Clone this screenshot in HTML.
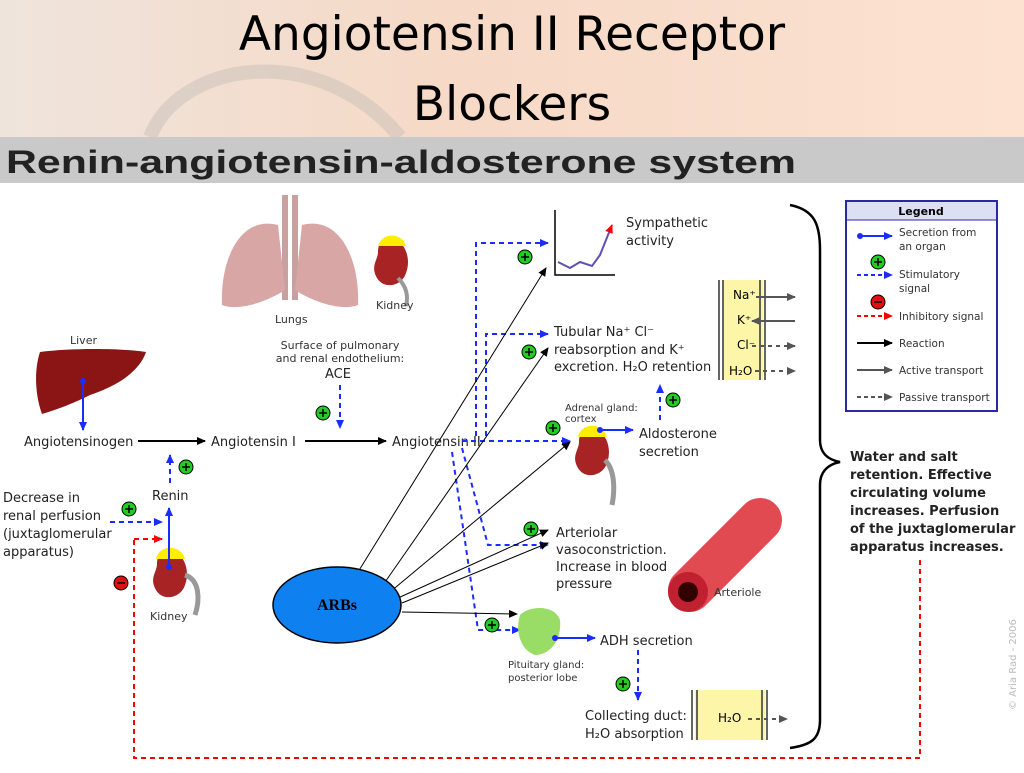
<!DOCTYPE html>
<html><head><meta charset="utf-8"><style>
body{margin:0;width:1024px;height:768px;overflow:hidden;background:#fff;font-family:"Liberation Sans",sans-serif}
</style></head><body>
<svg width="1024" height="768" viewBox="0 0 1024 768" xmlns="http://www.w3.org/2000/svg" font-family="DejaVu Sans, Liberation Sans, sans-serif">
<defs>
<linearGradient id="top" x1="0" x2="1" y1="0" y2="0"><stop offset="0" stop-color="#efe4dc"/><stop offset="0.45" stop-color="#f6d9c6"/><stop offset="1" stop-color="#fde2d2"/></linearGradient>
<marker id="ab" markerUnits="userSpaceOnUse" markerWidth="9" markerHeight="8" refX="8" refY="4" orient="auto"><path d="M0,0L9,4L0,8z" fill="#1a2cff"/></marker>
<marker id="ak" markerUnits="userSpaceOnUse" markerWidth="9" markerHeight="8" refX="8" refY="4" orient="auto"><path d="M0,0L9,4L0,8z" fill="#000"/></marker>
<marker id="ar" markerUnits="userSpaceOnUse" markerWidth="9" markerHeight="8" refX="8" refY="4" orient="auto"><path d="M0,0L9,4L0,8z" fill="#f00"/></marker>
<marker id="ag" markerUnits="userSpaceOnUse" markerWidth="9" markerHeight="8" refX="8" refY="4" orient="auto"><path d="M0,0L9,4L0,8z" fill="#555"/></marker>
<g id="plus"><circle r="7" fill="#22cc22" stroke="#000" stroke-width="1"/><path d="M-4,0H4M0,-4V4" stroke="#000" stroke-width="1.5"/></g>
<g id="minus"><circle r="7" fill="#dd1111" stroke="#000" stroke-width="1"/><path d="M-4,0H4" stroke="#000" stroke-width="1.5"/></g>
<g id="kid"><path d="M15,0C30,0 38,20 32,35C28,48 10,52 3,40C-4,28 4,22 4,14C4,6 8,0 15,0z" fill="#a82424"/></g>
</defs>
<rect width="1024" height="137" fill="url(#top)"/>
<path d="M150,137 C180,60 320,40 400,137" fill="none" stroke="#c8c0b8" stroke-width="14" opacity=".5"/>
<text x="512" y="50" font-size="47" text-anchor="middle" fill="#000">Angiotensin II Receptor</text>
<text x="512" y="120" font-size="47" text-anchor="middle" fill="#000">Blockers</text>
<rect x="0" y="137" width="1024" height="46" fill="#c9c9c9"/>
<text x="6" y="173" font-size="32" font-weight="bold" fill="#222" font-family="Liberation Sans Narrow, Liberation Sans, sans-serif" textLength="790" lengthAdjust="spacingAndGlyphs">Renin-angiotensin-aldosterone system</text>

<!-- lungs -->
<path d="M285,195V300M295,195V300" stroke="#c9a0a0" stroke-width="6"/>
<path d="M278,225C240,215 220,260 222,305C240,312 270,300 285,290z" fill="#d9a6a6"/>
<path d="M302,225C340,215 360,260 358,305C340,312 310,300 295,290z" fill="#d9a6a6"/>
<text x="275" y="323" font-size="11" fill="#333">Lungs</text>
<g transform="translate(374,238)"><use href="#kid"/><path d="M4,8C8,-6 28,-6 32,8z" fill="#ffee00"/><path d="M24,40C34,50 34,60 32,68" stroke="#999" stroke-width="4" fill="none"/></g>
<text x="376" y="309" font-size="11" fill="#333">Kidney</text>
<text x="340" y="349" font-size="11" text-anchor="middle" fill="#333">Surface of pulmonary</text>
<text x="340" y="362" font-size="11" text-anchor="middle" fill="#333">and renal endothelium:</text>
<text x="338" y="378" font-size="13" text-anchor="middle" fill="#222">ACE</text>
<line x1="340" y1="385" x2="340" y2="428" stroke="#1a2cff" stroke-width="2" stroke-dasharray="5,4" marker-end="url(#ab)"/>
<use href="#plus" x="323" y="413"/>

<!-- liver -->
<text x="70" y="344" font-size="11" fill="#333">Liver</text>
<path d="M40,352C70,348 120,348 146,352C140,370 120,385 90,395C70,405 55,410 42,414C35,395 34,370 40,352z" fill="#8b1414"/>
<line x1="83" y1="381" x2="83" y2="430" stroke="#1a2cff" stroke-width="2" marker-end="url(#ab)"/>
<circle cx="83" cy="381" r="3" fill="#1a2cff"/>
<text x="24" y="446" font-size="13" fill="#222">Angiotensinogen</text>
<line x1="138" y1="441" x2="205" y2="441" stroke="#000" stroke-width="2" marker-end="url(#ak)"/>
<text x="211" y="446" font-size="13" fill="#222">Angiotensin I</text>
<line x1="305" y1="441" x2="386" y2="441" stroke="#000" stroke-width="2" marker-end="url(#ak)"/>
<text x="392" y="446" font-size="13" fill="#222">Angiotensin II</text>
<line x1="170" y1="483" x2="170" y2="455" stroke="#1a2cff" stroke-width="2" stroke-dasharray="5,4" marker-end="url(#ab)"/>
<use href="#plus" x="186" y="467"/>
<text x="152" y="500" font-size="13" fill="#222">Renin</text>
<text x="3" y="502" font-size="13" fill="#222">Decrease in</text>
<text x="3" y="520" font-size="13" fill="#222">renal perfusion</text>
<text x="3" y="538" font-size="13" fill="#222">(juxtaglomerular</text>
<text x="3" y="556" font-size="13" fill="#222">apparatus)</text>
<use href="#plus" x="129" y="509"/>
<line x1="110" y1="522" x2="162" y2="522" stroke="#1a2cff" stroke-width="2" stroke-dasharray="5,4" marker-end="url(#ab)"/>
<line x1="134" y1="539" x2="162" y2="539" stroke="#f00" stroke-width="2" stroke-dasharray="5,4" marker-end="url(#ar)"/>
<g transform="translate(153,550)"><use href="#kid"/><path d="M3,9C6,-6 28,-6 32,9z" fill="#ffee00"/></g>
<path d="M185,575C200,580 200,600 195,615" stroke="#999" stroke-width="5" fill="none"/>
<line x1="169" y1="567" x2="169" y2="508" stroke="#1a2cff" stroke-width="2" marker-end="url(#ab)"/>
<circle cx="169" cy="567" r="3" fill="#1a2cff"/>
<text x="150" y="620" font-size="11" fill="#333">Kidney</text>
<use href="#minus" x="121" y="583"/>
<path d="M134,540V758H920V560" fill="none" stroke="#f00" stroke-width="2" stroke-dasharray="5,4"/>

<!-- blue dashed branches -->
<path d="M476,436V243H548" fill="none" stroke="#1a2cff" stroke-width="2" stroke-dasharray="5,4" marker-end="url(#ab)"/>
<path d="M462,441H570" fill="none" stroke="#1a2cff" stroke-width="2" stroke-dasharray="5,4" marker-end="url(#ab)"/>
<path d="M486,436V334H548" fill="none" stroke="#1a2cff" stroke-width="2" stroke-dasharray="5,4" marker-end="url(#ab)"/>
<path d="M462,448L488,545H548" fill="none" stroke="#1a2cff" stroke-width="2" stroke-dasharray="5,4" marker-end="url(#ab)"/>
<path d="M452,452L478,630H520" fill="none" stroke="#1a2cff" stroke-width="2" stroke-dasharray="5,4" marker-end="url(#ab)"/>
<use href="#plus" x="525" y="257"/><use href="#plus" x="529" y="352"/><use href="#plus" x="553" y="428"/><use href="#plus" x="531" y="529"/><use href="#plus" x="492" y="625"/>

<!-- sympathetic chart -->
<path d="M555,210V275H615" fill="none" stroke="#000" stroke-width="1.5"/>
<path d="M558,262L570,268L580,262L592,266L600,255L606,240L612,225" fill="none" stroke="#6050b0" stroke-width="2" marker-end="url(#ar)"/>
<text x="626" y="227" font-size="13" fill="#222">Sympathetic</text>
<text x="626" y="245" font-size="13" fill="#222">activity</text>
<text x="554" y="336" font-size="13" fill="#222">Tubular Na⁺ Cl⁻</text>
<text x="554" y="354" font-size="13" fill="#222">reabsorption and K⁺</text>
<text x="554" y="371" font-size="13" fill="#222">excretion. H₂O retention</text>
<text x="565" y="411" font-size="10" fill="#333">Adrenal gland:</text>
<text x="565" y="422" font-size="10" fill="#333">cortex</text>
<g transform="translate(575,428)"><use href="#kid"/><path d="M3,9C6,-6 28,-6 32,9z" fill="#ffee00"/></g>
<path d="M605,460C615,470 615,490 612,505" stroke="#999" stroke-width="5" fill="none"/>
<line x1="600" y1="430" x2="633" y2="430" stroke="#1a2cff" stroke-width="2" marker-end="url(#ab)"/>
<circle cx="600" cy="430" r="3" fill="#1a2cff"/>
<text x="639" y="438" font-size="13" fill="#222">Aldosterone</text>
<text x="639" y="456" font-size="13" fill="#222">secretion</text>
<line x1="660" y1="420" x2="660" y2="385" stroke="#1a2cff" stroke-width="2" stroke-dasharray="5,4" marker-end="url(#ab)"/>
<use href="#plus" x="673" y="400"/>
<text x="556" y="537" font-size="13" fill="#222">Arteriolar</text>
<text x="556" y="554" font-size="13" fill="#222">vasoconstriction.</text>
<text x="556" y="571" font-size="13" fill="#222">Increase in blood</text>
<text x="556" y="588" font-size="13" fill="#222">pressure</text>
<path d="M690,590L760,520" stroke="#e04a50" stroke-width="44" stroke-linecap="round"/>
<circle cx="688" cy="592" r="20" fill="#c02030"/><circle cx="688" cy="592" r="10" fill="#300"/>
<text x="714" y="596" font-size="11" fill="#333">Arteriole</text>
<path d="M520,615C530,605 555,605 560,620C562,640 550,655 535,655C520,650 515,630 520,615z" fill="#99dd66"/>
<line x1="555" y1="638" x2="595" y2="638" stroke="#1a2cff" stroke-width="2" marker-end="url(#ab)"/>
<circle cx="555" cy="638" r="3" fill="#1a2cff"/>
<text x="600" y="645" font-size="13" fill="#222">ADH secretion</text>
<text x="508" y="668" font-size="10" fill="#333">Pituitary gland:</text>
<text x="508" y="681" font-size="10" fill="#333">posterior lobe</text>
<line x1="638" y1="650" x2="638" y2="700" stroke="#1a2cff" stroke-width="2" stroke-dasharray="5,4" marker-end="url(#ab)"/>
<use href="#plus" x="623" y="684"/>
<text x="585" y="720" font-size="13" fill="#222">Collecting duct:</text>
<text x="585" y="738" font-size="13" fill="#222">H₂O absorption</text>

<!-- membranes -->
<rect x="723" y="280" width="40" height="100" fill="#fdf6a8"/>
<path d="M719,280V380M723,280V380M760,280V380M765,280V380" stroke="#333" stroke-width="1.5"/>
<text x="733" y="299" font-size="12">Na⁺</text><line x1="756" y1="297" x2="795" y2="297" stroke="#555" stroke-width="2" marker-end="url(#ag)"/>
<text x="737" y="324" font-size="12">K⁺</text><line x1="795" y1="321" x2="752" y2="321" stroke="#555" stroke-width="2" marker-end="url(#ag)"/>
<text x="737" y="349" font-size="12">Cl⁻</text><line x1="752" y1="346" x2="795" y2="346" stroke="#555" stroke-width="2" stroke-dasharray="4,4" marker-end="url(#ag)"/>
<text x="729" y="375" font-size="12">H₂O</text><line x1="755" y1="371" x2="795" y2="371" stroke="#555" stroke-width="2" stroke-dasharray="4,4" marker-end="url(#ag)"/>
<rect x="695" y="690" width="70" height="50" fill="#fdf6a8"/>
<path d="M692,690V740M697,690V740M762,690V740M767,690V740" stroke="#333" stroke-width="1.5"/>
<text x="718" y="722" font-size="12">H₂O</text><line x1="748" y1="719" x2="787" y2="719" stroke="#555" stroke-width="2" stroke-dasharray="4,4" marker-end="url(#ag)"/>

<!-- brace -->
<path d="M790,205C815,210 820,225 820,250V440C820,455 830,460 840,462C830,464 820,470 820,485V720C820,740 810,745 790,748" fill="none" stroke="#000" stroke-width="2.5"/>
<g font-size="13" font-weight="bold" fill="#222">
<text x="850" y="461">Water and salt</text><text x="850" y="479">retention. Effective</text>
<text x="850" y="497">circulating volume</text><text x="850" y="515">increases. Perfusion</text>
<text x="850" y="533">of the juxtaglomerular</text><text x="850" y="551">apparatus increases.</text></g>

<!-- legend -->
<rect x="846" y="201" width="151" height="210" fill="#fff" stroke="#2a2aa0" stroke-width="2"/>
<rect x="847" y="202" width="149" height="18" fill="#dde0f5"/><line x1="846" y1="220" x2="997" y2="220" stroke="#2a2aa0"/>
<text x="921" y="215" font-size="11" font-weight="bold" text-anchor="middle">Legend</text>
<g font-size="10.5" fill="#333">
<circle cx="860" cy="236" r="3" fill="#1a2cff"/><line x1="860" y1="236" x2="892" y2="236" stroke="#1a2cff" stroke-width="2" marker-end="url(#ab)"/>
<text x="899" y="236">Secretion from</text><text x="899" y="250">an organ</text>
<use href="#plus" x="878" y="262"/><line x1="857" y1="275" x2="892" y2="275" stroke="#1a2cff" stroke-width="2" stroke-dasharray="4,3" marker-end="url(#ab)"/>
<text x="899" y="278">Stimulatory</text><text x="899" y="292">signal</text>
<use href="#minus" x="878" y="302"/><line x1="857" y1="316" x2="892" y2="316" stroke="#f00" stroke-width="2" stroke-dasharray="4,3" marker-end="url(#ar)"/>
<text x="899" y="320">Inhibitory signal</text>
<line x1="857" y1="343" x2="892" y2="343" stroke="#000" stroke-width="2" marker-end="url(#ak)"/><text x="899" y="347">Reaction</text>
<line x1="857" y1="370" x2="892" y2="370" stroke="#555" stroke-width="2" marker-end="url(#ag)"/><text x="899" y="374">Active transport</text>
<line x1="857" y1="397" x2="892" y2="397" stroke="#555" stroke-width="2" stroke-dasharray="4,3" marker-end="url(#ag)"/><text x="899" y="401">Passive transport</text>
</g>
<text x="1016" y="710" font-size="10" fill="#bbb" transform="rotate(-90 1016 710)">© Aria Rad - 2006</text>

<!-- ARBs -->
<g stroke="#000" stroke-width="1" marker-end="url(#ak)">
<line x1="358" y1="572" x2="546" y2="268"/>
<line x1="383" y1="585" x2="548" y2="348"/>
<line x1="390" y1="592" x2="570" y2="442"/>
<line x1="398" y1="598" x2="548" y2="530"/>
<line x1="402" y1="603" x2="548" y2="543"/>
<line x1="402" y1="612" x2="517" y2="614"/>
</g>
<ellipse cx="337" cy="605" rx="64" ry="38" fill="#0f80f0" stroke="#000" stroke-width="1.5"/>
<text x="337" y="610" font-size="16" text-anchor="middle" font-family="Liberation Serif, serif" font-weight="bold">ARBs</text>
</svg>
</body></html>
